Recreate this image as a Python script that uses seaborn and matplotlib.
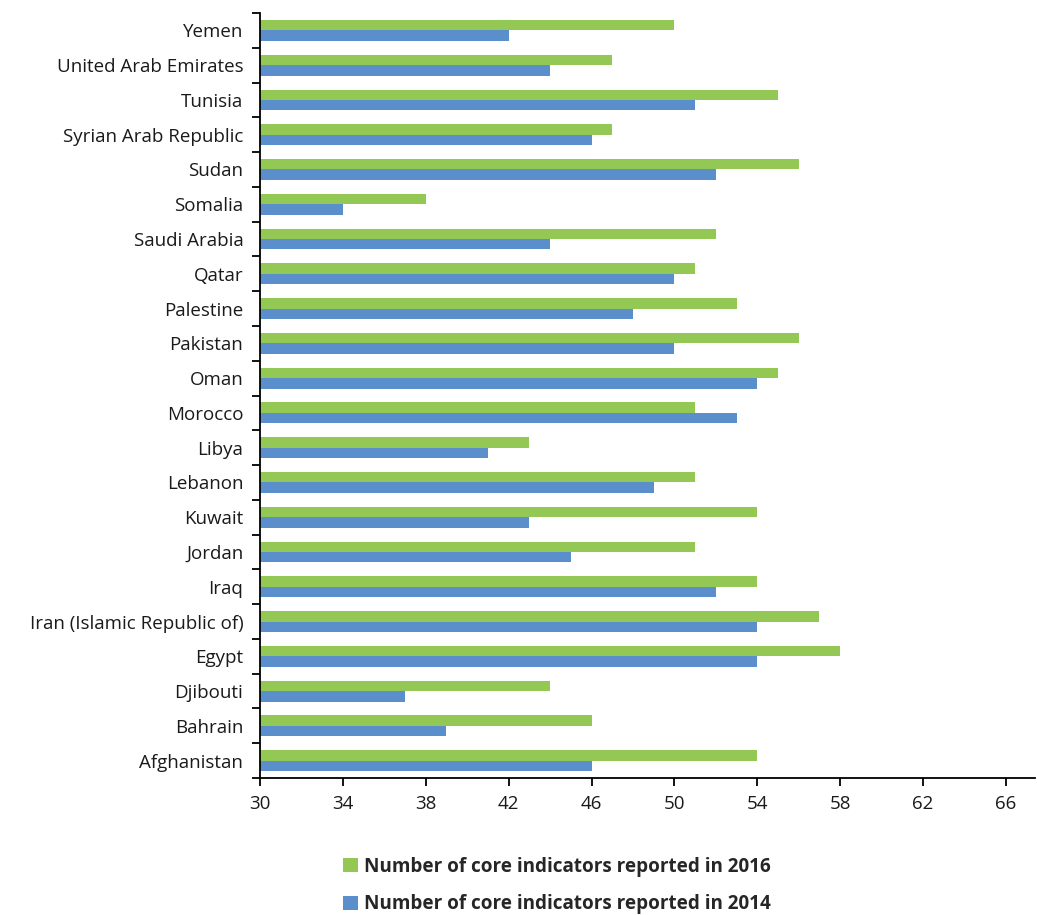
import pandas as pd
import matplotlib.pyplot as plt
import seaborn as sns
from matplotlib.patches import Patch

# DATA
countries = [
    "Yemen", "United Arab Emirates", "Tunisia", "Syrian Arab Republic", "Sudan",
    "Somalia", "Saudi Arabia", "Qatar", "Palestine", "Pakistan", "Oman",
    "Morocco", "Libya", "Lebanon", "Kuwait", "Jordan", "Iraq",
    "Iran (Islamic Republic of)", "Egypt", "Djibouti", "Bahrain", "Afghanistan",
]
reported_2016 = [50, 47, 55, 47, 56, 38, 52, 51, 53, 56, 55, 51, 43, 51, 54, 51, 54, 57, 58, 44, 46, 54]
reported_2014 = [42, 44, 51, 46, 52, 34, 44, 50, 48, 50, 54, 53, 41, 49, 43, 45, 52, 54, 54, 37, 39, 46]
series_names = [
    "Number of core indicators reported in 2016",
    "Number of core indicators reported in 2014",
]
x_ticks = [30, 34, 38, 42, 46, 50, 54, 58, 62, 66]

colors = ["#92C853", "#5B8FCB"]

df = pd.DataFrame({
    "country": countries * 2,
    "value": reported_2016 + reported_2014,
    "series": [series_names[0]] * len(countries) + [series_names[1]] * len(countries),
})

sns.set_style("white")
plt.rcParams["font.family"] = ["Open Sans", "DejaVu Sans"]

fig = plt.figure(figsize=(10.37, 9.15), dpi=100)
ax = fig.add_axes([260 / 1037, 1 - 778 / 915, (1035 - 260) / 1037, (778 - 13) / 915])

sns.barplot(
    data=df, y="country", x="value", hue="series", order=countries,
    hue_order=series_names, palette=colors, orient="h",
    width=0.6, gap=0, saturation=1, linewidth=0, ax=ax, legend=False,
)

ax.set_xlim(30, 67.4)
ax.set_ylim(len(countries) - 0.5, -0.5)
ax.set_xticks(x_ticks)
ax.set_xlabel("")
ax.set_ylabel("")

# ticks between categories on the y axis
ax.set_yticks([i - 0.5 for i in range(len(countries) + 1)], minor=True)
ax.tick_params(axis="y", which="major", left=False, length=0, labelsize=13.5, pad=12, colors="#1a1a1a")
ax.tick_params(axis="y", which="minor", left=True, length=6, width=1.3, color="black", direction="out")
ax.tick_params(axis="x", which="major", bottom=True, length=6, width=1.3, color="black", direction="out",
               labelsize=13.5, labelcolor="#1a1a1a", pad=6)

for side in ["top", "right"]:
    ax.spines[side].set_visible(False)
for side in ["left", "bottom"]:
    ax.spines[side].set_color("black")
    ax.spines[side].set_linewidth(1.3)

handles = [Patch(facecolor=c, edgecolor="none") for c in colors]
fig.legend(
    handles, series_names, loc="lower left", bbox_to_anchor=(326 / 1037, -0.018),
    frameon=False, prop={"weight": "bold", "size": 13.6},
    handlelength=0.8, handleheight=0.8, handletextpad=0.3, labelspacing=0.95,
)

fig.savefig("out.png", dpi=100)
